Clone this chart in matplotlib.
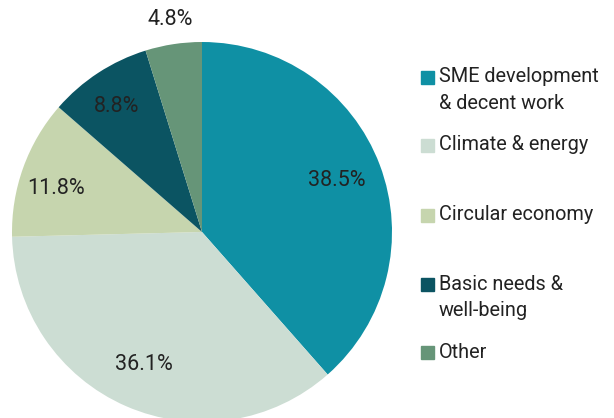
import numpy as np
import matplotlib.pyplot as plt
from matplotlib.patches import Rectangle

plt.rcParams['font.family'] = ['Roboto', 'DejaVu Sans']

labels = ["SME development\n& decent work", "Climate & energy", "Circular economy",
          "Basic needs &\nwell-being", "Other"]
shares = [38.5, 36.1, 11.8, 8.8, 4.8]
colors = ["#0f90a4", "#ccddd3", "#c6d5ae", "#0b5462", "#669578"]

W, H = 614, 418
fig = plt.figure(figsize=(W / 100, H / 100), dpi=100)
ax = fig.add_axes([0, 0, 1, 1])

# pie centre at (202, 232) px, radius 190 px
cx, cy, r = 202, 232, 190
wedges, _ = ax.pie(shares, colors=colors, startangle=90, counterclock=False,
                   radius=1, wedgeprops=dict(linewidth=0))
ax.set_xlim(-cx / r, (W - cx) / r)
ax.set_ylim(-(H - cy) / r, cy / r)
ax.set_aspect('equal')
ax.set_axis_off()

# label distance from centre (fraction of radius) and small angle nudge
dist = [0.76, 0.76, 0.80, 0.80, 1.13]
nudge = [0, 0, 3, 1, 0]
for w, s, d, n in zip(wedges, shares, dist, nudge):
    a = np.deg2rad((w.theta1 + w.theta2) / 2 + n)
    ax.text(d * np.cos(a), d * np.sin(a), f"{s}%", ha='center', va='center',
            fontsize=15.5, color='#222222')

# legend, drawn by hand because of its uneven spacing
tops = [71, 139, 209, 278, 346]
for lab, c, t in zip(labels, colors, tops):
    fig.patches.append(Rectangle((421 / W, 1 - (t + 12.6) / H), 12.6 / W, 12.6 / H,
                                 transform=fig.transFigure, color=c))
    fig.text(439 / W, 1 - (t - 3.5) / H, lab, ha='left', va='top', fontsize=14.3,
             color='#222222', linespacing=1.5)

fig.savefig("out.png", dpi=100)
